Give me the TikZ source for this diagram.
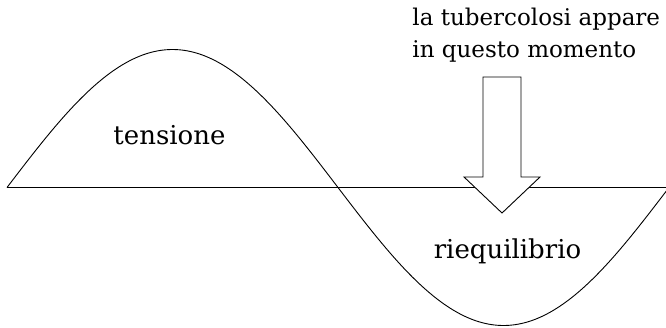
\documentclass[tikz,border=0pt]{standalone}
\usepackage{fontspec}
\setmainfont{DejaVu Serif}
\begin{document}
\begin{tikzpicture}[x=1pt,y=-1pt,line width=0.9pt,
  toplbl/.style={font=\fontsize{23}{27}\selectfont, inner sep=0pt, anchor=base west},
  lbl/.style={font=\fontsize{26}{30}\selectfont, inner sep=0pt, anchor=base}]
\useasboundingbox (0,0) rectangle (666,327);
\clip (0,0) rectangle (666,327);
\coordinate (L) at (7,187.5);
\coordinate (R) at (670,187.5);
\draw (L) -- (R);
\draw plot[domain=7:671, samples=240] (\x, {187.5-138*sin((\x-7)/662*360)});
\draw[fill=white, line join=miter] (483,77) -- (521,77) -- (521,177) -- (540,177) -- (502,213) -- (464,177) -- (483,177) -- cycle;
\node[toplbl] (t1) at (412,25) {la tubercolosi appare};
\node[toplbl] (t2) at (412,57) {in questo momento};
\node[lbl] (ten) at (169.5,144) {tensione};
\node[lbl] (rie) at (507.5,258) {riequilibrio};
\end{tikzpicture}
\end{document}
